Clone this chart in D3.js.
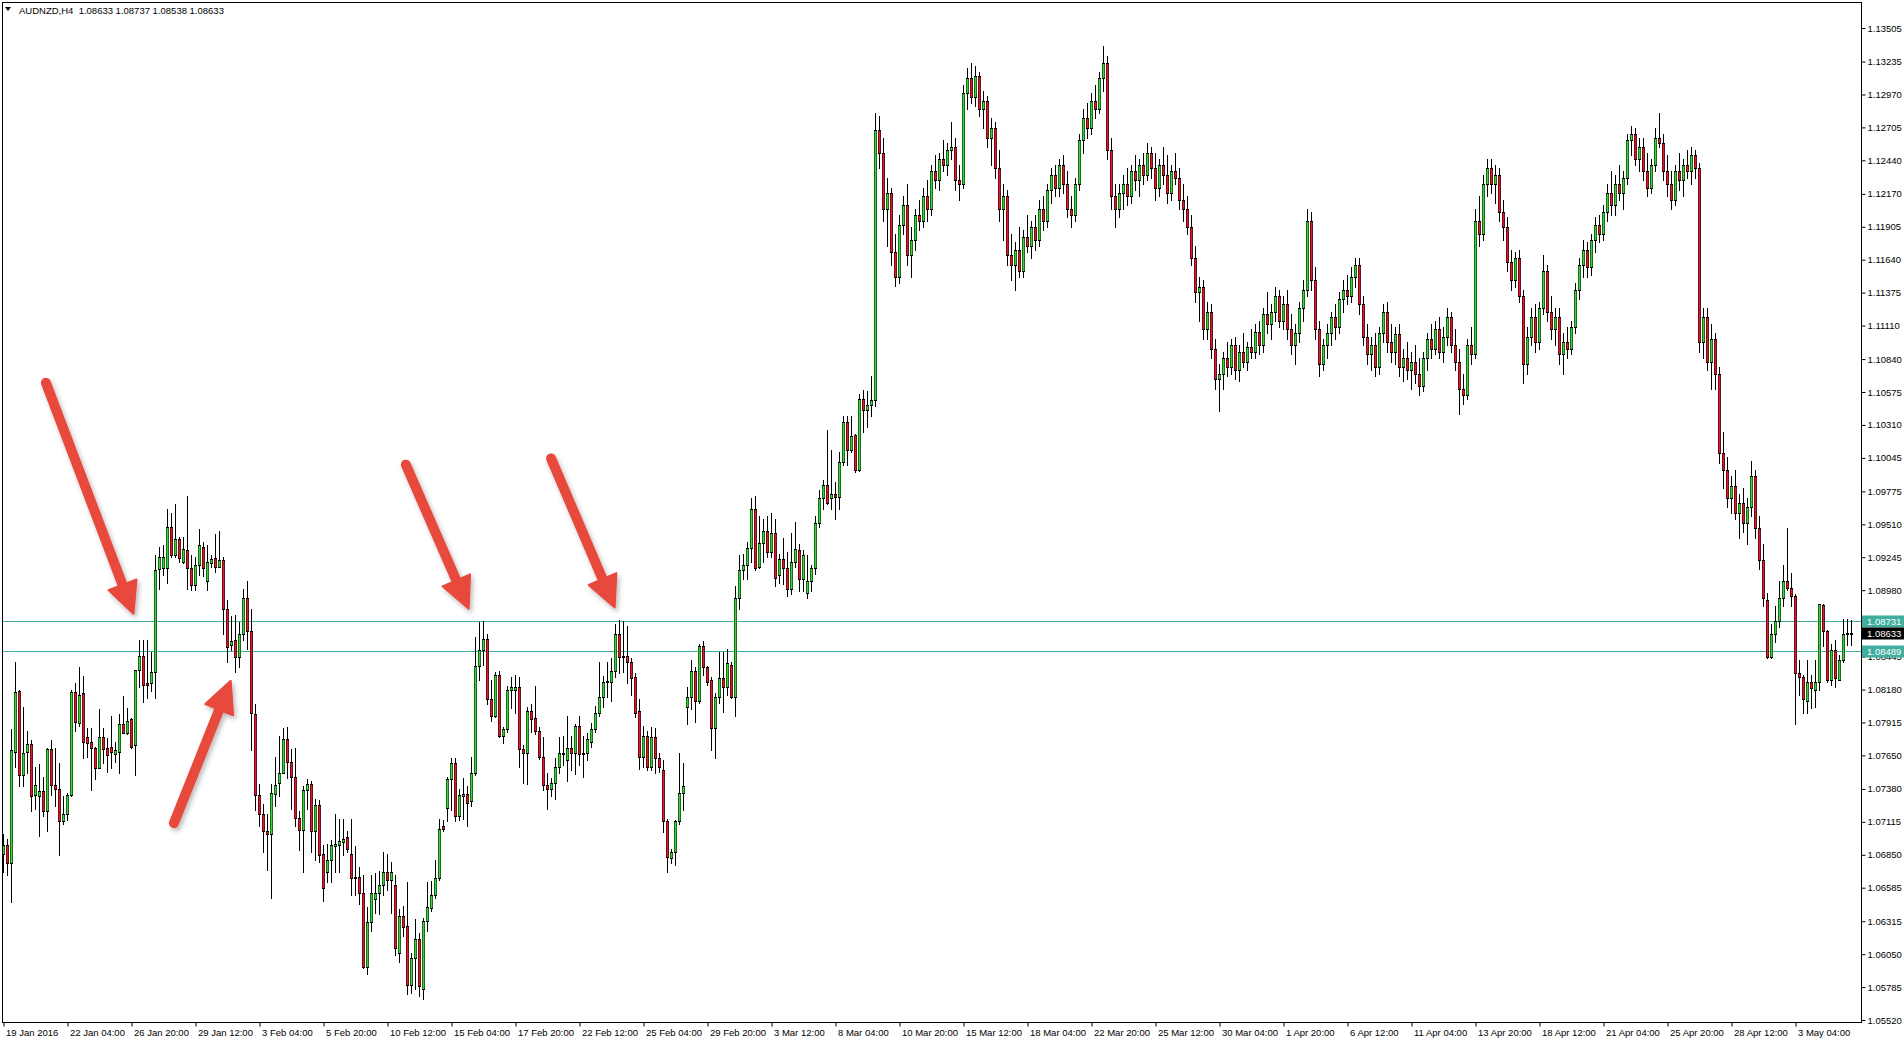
<!DOCTYPE html>
<html><head><meta charset="utf-8">
<script src="https://cdn.jsdelivr.net/npm/d3@7"></script>
<style>html,body{margin:0;padding:0;background:#fff;overflow:hidden}svg{display:block}</style>
</head><body>
<svg id="chart" width="1904" height="1043"></svg>
<script>
// ---- DATA (prices in pips above 1.0000: value v means 1 + v/10000) ----
const symbol = "AUDNZD,H4";
const headerValues = ["1.08633", "1.08737", "1.08538", "1.08633"];
const opens = [686,693,678,768,817,749,768,774,733,732,736,720,770,741,738,712,718,733,816,791,815,780,776,771,755,780,771,772,766,768,790,783,794,773,834,845,823,823,832,915,916,916,949,926,939,921,930,916,902,918,933,905,920,924,917,922,883,854,858,844,863,892,865,798,733,718,704,702,734,743,751,778,760,748,715,705,737,742,704,725,686,671,681,692,693,695,699,686,666,667,654,595,631,649,654,661,671,665,661,606,636,628,580,602,617,577,632,642,653,666,708,723,746,759,716,732,734,728,751,837,850,859,810,797,830,781,786,818,818,820,770,767,801,795,785,764,741,738,743,756,766,761,771,767,789,767,767,776,786,799,812,824,824,833,863,845,845,840,828,801,764,781,756,780,763,753,712,682,687,712,735,804,812,833,809,853,836,826,787,812,827,820,838,812,892,914,918,932,963,917,936,946,929,944,910,923,916,899,921,930,907,896,905,916,952,972,983,972,975,973,1001,1033,1011,1023,995,1052,1043,1047,1051,1268,1250,1205,1218,1170,1150,1192,1208,1168,1180,1200,1195,1215,1205,1235,1228,1245,1240,1252,1255,1228,1225,1298,1310,1295,1312,1285,1292,1262,1270,1238,1205,1215,1168,1160,1172,1155,1182,1175,1190,1180,1205,1195,1220,1232,1222,1240,1225,1205,1200,1225,1260,1278,1270,1292,1285,1310,1322,1252,1215,1205,1218,1225,1215,1235,1228,1240,1232,1250,1238,1222,1240,1232,1218,1235,1230,1212,1205,1190,1165,1138,1142,1108,1122,1092,1068,1072,1085,1078,1095,1075,1090,1082,1094,1090,1106,1095,1120,1112,1122,1135,1115,1128,1108,1095,1105,1125,1140,1195,1148,1108,1080,1095,1105,1118,1110,1132,1140,1135,1150,1160,1128,1102,1088,1095,1078,1105,1122,1098,1090,1104,1078,1085,1075,1082,1072,1062,1085,1100,1092,1108,1090,1102,1118,1095,1082,1060,1055,1095,1088,1195,1185,1225,1238,1225,1232,1202,1190,1162,1148,1165,1135,1080,1102,1118,1098,1125,1155,1122,1108,1118,1088,1098,1092,1110,1140,1160,1172,1158,1180,1192,1185,1202,1218,1208,1225,1218,1230,1260,1265,1245,1255,1235,1222,1240,1262,1258,1235,1225,1212,1235,1228,1240,1235,1248,1238,1098,1118,1082,1100,1072,1008,995,972,982,960,968,952,965,990,948,922,890,844,863,873,892,905,900,893,831,828,809,824,818,824,886,865,826,850,826,842,862.7,863.3];
const highs = [702,698,786,840,818,804,785,777,756,758,748,771,777,771,759,732,735,818,823,836,829,787,787,772,802,787,779,797,776,798,813,803,795,834,858,858,858,848,926,933,934,963,960,967,941,941,974,926,925,947,937,934,926,943,946,925,890,877,878,872,899,905,883,806,742,726,718,742,764,781,787,788,770,771,720,740,746,744,730,729,693,694,697,718,714,714,704,714,692,675,669,643,669,670,672,687,686,679,669,641,644,663,606,633,622,634,663,664,681,714,713,748,763,763,738,747,740,764,860,872,873,863,826,832,833,788,821,828,830,828,773,804,806,821,788,780,751,747,763,780,781,797,781,790,797,781,783,791,805,840,829,840,843,871,874,873,869,843,831,810,789,785,788,787,767,761,714,690,713,767,759,820,842,836,855,857,837,828,815,848,848,851,840,901,926,927,937,972,974,958,955,958,960,955,927,940,929,944,953,935,930,926,918,958,979,987,1027,1011,985,1009,1038,1038,1038,1024,1056,1059,1058,1070,1282,1280,1262,1230,1222,1185,1200,1215,1225,1190,1205,1212,1222,1228,1240,1248,1250,1260,1258,1275,1262,1240,1305,1318,1322,1320,1315,1300,1296,1278,1275,1252,1225,1220,1185,1178,1190,1188,1200,1195,1200,1212,1215,1225,1238,1240,1245,1248,1235,1215,1230,1265,1285,1290,1298,1305,1315,1336,1328,1262,1225,1225,1232,1238,1240,1248,1245,1250,1258,1255,1250,1245,1255,1248,1240,1250,1238,1225,1215,1200,1175,1150,1148,1130,1128,1100,1080,1090,1098,1100,1102,1095,1105,1098,1108,1112,1115,1125,1138,1128,1142,1140,1135,1140,1120,1112,1130,1148,1205,1202,1158,1115,1100,1112,1122,1128,1138,1148,1152,1158,1165,1165,1135,1112,1102,1105,1110,1128,1130,1112,1110,1112,1092,1098,1090,1095,1085,1090,1105,1112,1115,1118,1110,1125,1122,1108,1092,1072,1100,1110,1205,1215,1232,1245,1245,1240,1238,1212,1198,1172,1170,1172,1140,1110,1125,1128,1130,1168,1160,1135,1125,1125,1105,1110,1115,1145,1165,1180,1178,1185,1198,1200,1208,1225,1235,1232,1240,1235,1265,1272,1270,1262,1262,1250,1245,1270,1282,1265,1248,1235,1240,1250,1245,1252,1255,1252,1242,1125,1125,1112,1105,1078,1025,1005,990,995,975,980,972,1002,995,958,935,896,871,885,905,918,948,912,895,842,830,842,830,842,887,887,866,855,858,846,875,874.5,873.7];
const lows = [671,669,647,756,740,740,751,720,722,700,716,704,733,724,685,710,713,732,785,789,763,764,737,746,755,759,752,755,760,751,783,782,771,749,820,808,811,817,811,899,910,904,925,925,921,920,899,898,898,910,909,898,917,913,917,863,840,850,832,836,858,851,769,721,708,687,673,650,724,732,751,747,722,708,689,671,722,687,681,679,648,663,663,671,671,685,687,653,653,645,594,589,624,638,637,653,657,638,604,599,620,573,574,577,571,569,624,640,650,665,704,712,721,712,713,714,708,724,749,826,838,806,793,796,780,775,784,803,799,756,743,742,784,782,762,737,722,732,730,751,757,744,753,750,757,748,761,772,784,797,804,812,809,828,831,832,823,814,796,754,756,753,753,751,752,703,671,678,677,710,721,790,802,792,807,830,822,769,763,807,800,814,811,797,883,907,907,921,914,916,921,925,925,901,904,903,893,895,917,897,897,892,897,911,949,963,967,963,955,963,999,999,1009,993,994,1025,1029,1038,1046,1238,1195,1175,1160,1143,1145,1185,1160,1150,1172,1188,1190,1195,1200,1222,1220,1235,1232,1245,1220,1212,1222,1285,1290,1288,1280,1270,1255,1240,1230,1195,1180,1160,1148,1140,1150,1150,1170,1165,1172,1175,1188,1190,1210,1215,1215,1218,1198,1190,1195,1220,1250,1262,1265,1278,1282,1300,1245,1205,1190,1198,1205,1208,1210,1220,1215,1225,1228,1230,1212,1215,1225,1210,1212,1225,1205,1195,1185,1160,1130,1115,1100,1100,1085,1060,1042,1060,1070,1072,1068,1066,1078,1075,1085,1085,1088,1090,1105,1100,1115,1110,1108,1100,1088,1080,1098,1115,1135,1140,1100,1070,1075,1085,1095,1100,1105,1122,1128,1130,1142,1120,1095,1080,1075,1070,1072,1098,1090,1082,1080,1070,1066,1068,1060,1065,1055,1058,1075,1085,1088,1085,1082,1095,1090,1075,1040,1048,1052,1080,1085,1175,1180,1215,1218,1210,1195,1180,1155,1140,1142,1130,1065,1072,1095,1090,1092,1120,1115,1100,1095,1080,1072,1085,1088,1105,1132,1150,1150,1152,1170,1178,1180,1195,1200,1200,1212,1205,1225,1248,1240,1235,1228,1215,1218,1235,1255,1228,1215,1205,1208,1220,1215,1230,1225,1230,1090,1085,1075,1060,1060,1000,980,965,960,955,940,945,935,958,940,915,885,843,843,856,868,885,898,885,790,814,799,799,803,804,818,853,824,822,820,826,840,853.8,853.8];
const closes = [693,678,769,816,749,767,774,732,741,736,720,770,741,738,712,718,733,816,792,814,776,775,771,755,780,770,765,768,769,790,783,793,772,834,845,822,822,832,914,925,925,949,926,939,924,931,916,902,918,934,916,921,923,917,922,883,852,857,844,863,892,865,799,733,718,704,702,735,741,751,778,760,748,715,705,737,742,704,725,685,658,681,693,694,696,698,690,666,667,654,595,631,654,654,661,671,665,671,610,636,627,580,602,617,579,632,643,653,666,706,706,746,759,716,733,734,727,751,837,850,859,810,797,830,781,786,818,820,820,770,767,801,794,785,764,741,738,743,756,767,767,771,767,789,766,767,778,786,799,812,824,825,833,863,844,845,840,827,799,764,781,756,780,763,756,712,683,687,712,735,740,812,833,809,853,836,824,787,812,827,820,839,812,892,914,918,932,963,916,936,946,929,944,908,923,916,899,921,931,907,926,905,916,952,972,983,968,975,973,1001,1033,1011,1022,995,1052,1043,1047,1051,1268,1250,1205,1218,1170,1150,1192,1208,1168,1180,1200,1195,1215,1205,1235,1228,1245,1240,1252,1255,1228,1225,1298,1310,1295,1312,1285,1292,1262,1270,1238,1205,1215,1168,1160,1172,1155,1182,1175,1190,1180,1205,1195,1220,1232,1222,1240,1225,1205,1200,1225,1260,1278,1270,1292,1285,1310,1322,1252,1215,1205,1218,1225,1215,1235,1228,1240,1232,1250,1238,1222,1240,1232,1218,1235,1230,1212,1205,1190,1165,1138,1142,1108,1122,1092,1068,1072,1085,1078,1095,1075,1090,1082,1094,1090,1106,1095,1120,1112,1122,1135,1115,1128,1108,1095,1105,1125,1140,1195,1148,1108,1080,1095,1105,1118,1110,1132,1140,1135,1150,1160,1128,1102,1088,1095,1078,1105,1122,1098,1090,1104,1078,1085,1075,1082,1072,1062,1085,1100,1092,1108,1090,1102,1118,1095,1082,1060,1055,1095,1088,1195,1185,1225,1238,1225,1232,1202,1190,1162,1148,1165,1135,1080,1102,1118,1098,1125,1155,1122,1108,1118,1088,1098,1092,1110,1140,1160,1172,1158,1180,1192,1185,1202,1218,1208,1225,1218,1230,1260,1265,1245,1255,1235,1222,1240,1262,1258,1235,1225,1212,1235,1228,1240,1235,1248,1238,1098,1118,1082,1100,1072,1008,995,972,982,960,968,952,965,990,948,922,892,844,863,873,892,905,900,893,831,828,810,824,819,824,887,865,826,850,827,842,863,863.2,863.3];

const timeLabels = ["19 Jan 2016","22 Jan 04:00","26 Jan 20:00","29 Jan 12:00","3 Feb 04:00","5 Feb 20:00","10 Feb 12:00","15 Feb 04:00","17 Feb 20:00","22 Feb 12:00","25 Feb 04:00","29 Feb 20:00","3 Mar 12:00","8 Mar 04:00","10 Mar 20:00","15 Mar 12:00","18 Mar 04:00","22 Mar 20:00","25 Mar 12:00","30 Mar 04:00","1 Apr 20:00","6 Apr 12:00","11 Apr 04:00","13 Apr 20:00","18 Apr 12:00","21 Apr 04:00","25 Apr 20:00","28 Apr 12:00","3 May 04:00"];
const timeLabelBars = [0,16,32,48,64,80,96,112,128,144,160,176,192,208,224,240,256,272,288,304,320,336,352,368,384,400,416,432,448];
const priceTicks = [1.13505,1.13235,1.12970,1.12705,1.12440,1.12170,1.11905,1.11640,1.11375,1.11110,1.10840,1.10575,1.10310,1.10045,1.09775,1.09510,1.09245,1.08980,1.08715,1.08445,1.08180,1.07915,1.07650,1.07380,1.07115,1.06850,1.06585,1.06315,1.06050,1.05785,1.05520];
const levelLines = [1.08731, 1.08489];
const currentPrice = 1.08633;
// arrows: [tailBar, tailPrice, tipBar, tipPrice]
const arrowsData = [[10.6,1.10650,32.5,1.08790],[42.6,1.07105,56.8,1.08250],[100.6,1.09990,116.3,1.08830],[136.9,1.10040,152.8,1.08840]];

// ---- LAYOUT ----
const W = 1904, H = 1043;
const plotL = 2, plotR = 1861, plotT = 2, plotB = 1022;
const P = v => 1 + v / 10000;
const bull = "#3ad43a", bear = "#d81c2c", teal = "#3fae9e";
const font = "'Liberation Sans', Arial, sans-serif";

const svg = d3.select("#chart");
const x = d3.scaleLinear().domain([0, 462]).range([3.5, 1851.5]);
const y = d3.scaleLinear().domain([1.0552, 1.13505]).range([1020, 28]);

svg.append("rect").attr("width", W).attr("height", H).attr("fill", "#fff");

const defs = svg.append("defs");
defs.append("clipPath").attr("id", "clip").append("rect")
  .attr("x", plotL).attr("y", plotT).attr("width", plotR - plotL).attr("height", plotB - plotT);
const f = defs.append("filter").attr("id", "shadow").attr("x", "-20%").attr("y", "-20%").attr("width", "140%").attr("height", "140%");
f.append("feDropShadow").attr("dx", 2).attr("dy", 3).attr("stdDeviation", 2.5).attr("flood-color", "#000").attr("flood-opacity", 0.28);

// level lines
const gl = svg.append("g").attr("clip-path", "url(#clip)");
gl.selectAll("line").data(levelLines).join("line")
  .attr("x1", plotL).attr("x2", plotR)
  .attr("y1", d => Math.round(y(d)) + 0.5).attr("y2", d => Math.round(y(d)) + 0.5)
  .attr("stroke", teal).attr("stroke-width", 1);

// candles
const data = d3.range(opens.length).map(i => ({ i, o: P(opens[i]), h: P(highs[i]), l: P(lows[i]), c: P(closes[i]) }));
const gc = svg.append("g").attr("clip-path", "url(#clip)");
gc.selectAll("line.w").data(data).join("line").attr("class", "w")
  .attr("x1", d => x(d.i)).attr("x2", d => x(d.i))
  .attr("y1", d => Math.round(y(d.h))).attr("y2", d => Math.round(y(d.l)) + 1)
  .attr("stroke", "#000").attr("stroke-width", 1);
const bodyTop = d => Math.round(y(Math.max(d.o, d.c)));
const bodyH = d => Math.max(1, Math.round(y(Math.min(d.o, d.c))) - bodyTop(d));
gc.selectAll("rect.b").data(data).join("rect").attr("class", "b")
  .attr("x", d => x(d.i) - 1.5).attr("width", 3)
  .attr("y", bodyTop).attr("height", d => bodyH(d) + 1)
  .attr("fill", "#000");
gc.selectAll("rect.f").data(data.filter(d => bodyH(d) > 1)).join("rect").attr("class", "f")
  .attr("x", d => x(d.i) - 1).attr("width", 2)
  .attr("y", d => bodyTop(d) + 1).attr("height", d => bodyH(d) - 1)
  .attr("fill", d => d.c >= d.o ? bull : bear);

// arrows
const ga = svg.append("g").attr("filter", "url(#shadow)");
const arrowColor = "#e8483e";
arrowsData.forEach(a => {
  const x1 = x(a[0]), y1 = y(a[1]), x2 = x(a[2]), y2 = y(a[3]);
  const dx = x2 - x1, dy = y2 - y1, len = Math.hypot(dx, dy);
  const ux = dx / len, uy = dy / len, px = -uy, py = ux;
  const headL = 31, headW = 15;
  const bx = x2 - ux * headL, by = y2 - uy * headL;
  ga.append("line").attr("x1", x1).attr("y1", y1).attr("x2", bx + ux * 4).attr("y2", by + uy * 4)
    .attr("stroke", arrowColor).attr("stroke-width", 10).attr("stroke-linecap", "round");
  ga.append("path").attr("d", `M${x2},${y2}L${bx + px * headW},${by + py * headW}L${bx - px * headW},${by - py * headW}Z`)
    .attr("fill", arrowColor).attr("stroke", arrowColor).attr("stroke-width", 2).attr("stroke-linejoin", "round");
});

// frame
svg.append("rect").attr("x", plotL + 0.5).attr("y", plotT + 0.5).attr("width", plotR - plotL).attr("height", plotB - plotT)
  .attr("fill", "none").attr("stroke", "#000").attr("stroke-width", 1);

// right axis
const yAxis = d3.axisRight(y).tickValues(priceTicks).tickSize(4).tickPadding(2).tickFormat(d3.format(".5f"));
const gy = svg.append("g").attr("transform", `translate(${plotR + 0.5},0)`).call(yAxis);
gy.select(".domain").remove();
gy.selectAll("text").attr("font-family", font).attr("font-size", "9.5px").attr("fill", "#000");
gy.selectAll("line").attr("stroke", "#000");

// bottom axis
const xAxis = d3.axisBottom(x).tickValues(timeLabelBars).tickSize(4).tickFormat((d, k) => timeLabels[k]);
const gx = svg.append("g").attr("transform", `translate(0,${plotB + 0.5})`).call(xAxis);
gx.select(".domain").remove();
gx.selectAll("line").attr("stroke", "#000");
gx.selectAll("text").attr("font-family", font).attr("font-size", "9.5px").attr("fill", "#000")
  .attr("text-anchor", "start").attr("dx", "2").attr("y", 7);

// price labels on right
const labels = levelLines.map(v => ({ v, bg: teal })).concat([{ v: currentPrice, bg: "#000" }]);
const gLab = svg.append("g");
labels.forEach(l => {
  const cy = y(l.v);
  gLab.append("rect").attr("x", plotR + 1).attr("y", Math.round(cy) - 5.5).attr("width", W - plotR - 1).attr("height", 12).attr("fill", l.bg);
  gLab.append("text").attr("x", plotR + 6).attr("y", Math.round(cy) + 4).attr("font-family", font).attr("font-size", "9.5px")
    .attr("fill", "#fff").text(d3.format(".5f")(l.v));
});

// header
svg.append("path").attr("d", "M5,7L11,7L8,11Z").attr("fill", "#000");
svg.append("text").attr("x", 19).attr("y", 14).attr("font-family", font).attr("font-size", "9.5px").attr("fill", "#000")
  .text(symbol + "  " + headerValues.join(" ")).attr("xml:space", "preserve").style("white-space", "pre");
</script>
</body></html>
